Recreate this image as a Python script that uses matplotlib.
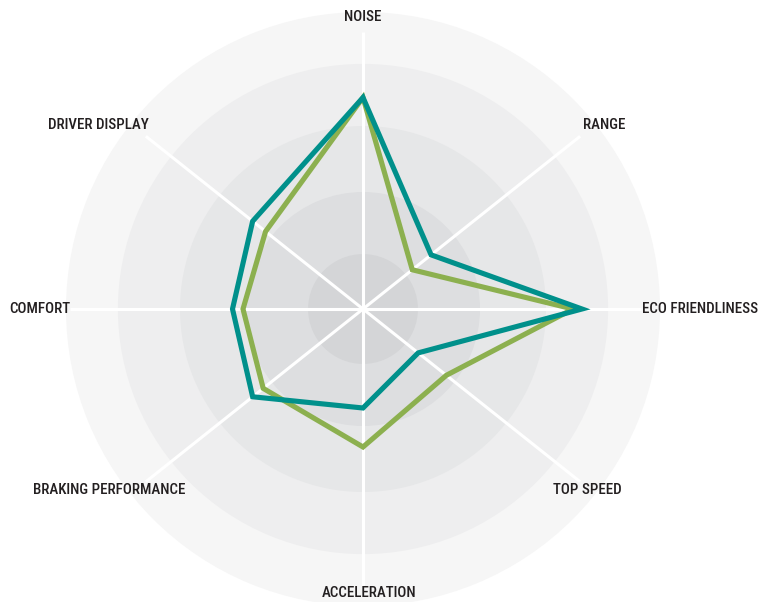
import os
import math
import numpy as np
import matplotlib
matplotlib.use("Agg")
import matplotlib.pyplot as plt
from matplotlib import font_manager
from matplotlib.font_manager import FontProperties
from matplotlib.textpath import TextPath

# ---- data ----
categories = ["NOISE", "RANGE", "ECO FRIENDLINESS", "TOP SPEED", "ACCELERATION",
              "BRAKING PERFORMANCE", "COMFORT", "DRIVER DISPLAY"]
angles_deg = [90, 38.5, 0, -38.5, -90, -141.5, -180, -218.5]
teal_values = [70.5, 29, 73, 23.5, 33, 47, 43.5, 47]
green_values = [70.5, 21, 70, 35.5, 46, 42.5, 40, 41.5]
ring_levels = [99, 81.7, 61, 39, 18.3]
ring_colors = ["#f6f6f6", "#eeeeef", "#e6e7e8", "#dddee0", "#d4d5d7"]

# ---- font choice: a condensed face with proportions close to the reference lettering ----
TARGET_RATIO = 8.1      # width of "DRIVER DISPLAY" / cap height in reference
TARGET_WIDTH_PX = 100.0
PREFIXES = ("notosans-", "opensans", "roboto", "dejavusans", "liberationsans", "lato", "inter")

def pick_font():
    cands = []
    seen = set()
    for f in font_manager.fontManager.ttflist:
        base = os.path.basename(f.fname).lower()
        if f.fname in seen or "italic" in base or "oblique" in base:
            continue
        if not base.startswith(PREFIXES):
            continue
        if not ("condensed" in base or "narrow" in base):
            continue
        seen.add(f.fname)
        cands.append(f)
    best = None
    for f in cands[:40]:
        try:
            prop = FontProperties(fname=f.fname)
            w = TextPath((0, 0), "DRIVER DISPLAY", size=100, prop=prop).get_extents().width
            h = TextPath((0, 0), "H", size=100, prop=prop).get_extents().height
        except Exception:
            continue
        if w <= 0 or h <= 0:
            continue
        wt = f.weight if isinstance(f.weight, int) else 400
        score = abs(math.log((w / h) / TARGET_RATIO)) + abs(wt - 500) / 800.0
        if best is None or score < best[0]:
            best = (score, f.fname, w)
    return best

choice = pick_font()
if choice is not None:
    size_pt = TARGET_WIDTH_PX * 72.0 / choice[2]
    fp = FontProperties(fname=choice[1], size=size_pt)
else:
    fp = FontProperties(family=["Roboto", "DejaVu Sans"], size=9)

W, H = 762, 602
fig = plt.figure(figsize=(W / 100, H / 100), dpi=100)
cx, cy = 363, 309
R = 300
ax = fig.add_axes([(cx - R) / W, (H - cy - R) / H, 2 * R / W, 2 * R / H], projection="polar")
ax.set_ylim(0, 100)
ax.set_axis_off()

# rings
for lvl, col in zip(ring_levels, ring_colors):
    ax.bar(0, lvl, width=2 * np.pi, bottom=0, color=col, edgecolor="none", align="center", zorder=1)

theta = np.deg2rad(angles_deg)
# spokes
spoke_len = [92.3, 92.5, 92.5, 92.5, 92.3, 92.5, 97.7, 92.5]
for t, L in zip(theta, spoke_len):
    ax.plot([t, t], [0, L], color="white", lw=2.2, zorder=2, solid_capstyle="butt")

ax.fill(theta, green_values, facecolor="none", edgecolor="#8cb04f", lw=3.7, joinstyle="miter", zorder=3)
ax.fill(theta, teal_values, facecolor="none", edgecolor="#00908b", lw=3.7, joinstyle="miter", zorder=4)

# labels (pixel positions)
label_pos = [(363, 17, "center"), (583, 124.5, "left"), (642, 309, "left"), (553, 490, "left"),
             (369, 593, "center"), (185, 490, "right"), (70, 309, "right"), (149, 124.5, "right")]
for name, (x, y, ha) in zip(categories, label_pos):
    fig.text(x / W, 1 - y / H, name, ha=ha, va="center", color="#231f20", fontproperties=fp)

fig.savefig("out.png", dpi=100)
